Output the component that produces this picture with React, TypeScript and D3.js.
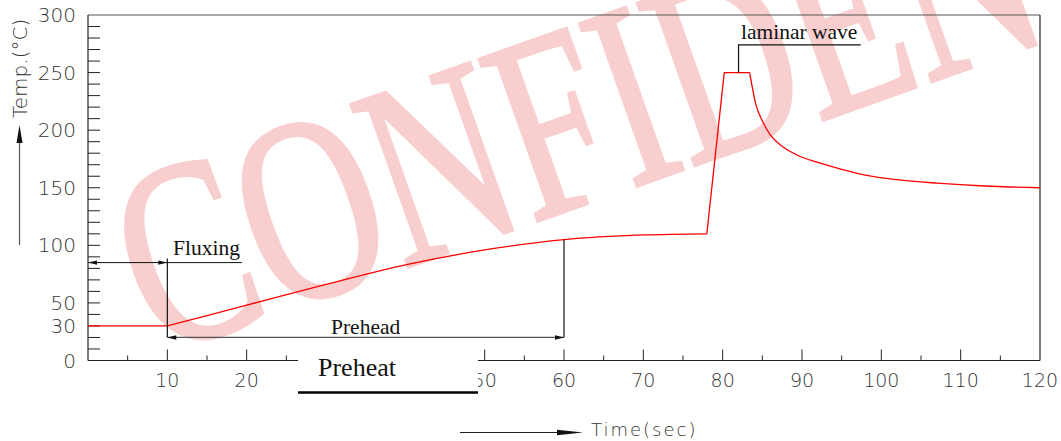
import { useRef, useEffect } from "react";
import * as d3 from "d3";

// profile segments (time sec, temp °C)
const fluxSeg: [number, number][] = [[0, 30], [10, 30]];
const preheatSeg: [number, number][] = [[10, 30], [20, 48], [30, 66], [40, 83], [50, 96], [60, 105], [70, 109], [78, 110]];
const waveSeg: [number, number][] = [[78, 110], [80.2, 250], [83.4, 250]];
const coolSeg: [number, number][] = [[83.4, 250], [84.2, 222], [85, 208], [86, 196], [87.5, 186], [89.5, 178], [92, 172], [95, 166], [98, 161], [102, 157], [107, 154], [113, 151.5], [120, 150]];

const yTickLabels = [0, 30, 50, 100, 150, 200, 250, 300];
const xTickLabels = [10, 20, 30, 40, 50, 60, 70, 80, 90, 100, 110, 120];

const W = 1061;
const H = 441;
const sans = "'DejaVu Sans', sans-serif";
const serif = "'Liberation Serif', 'Times New Roman', serif";

function arrowHead(g: any, x: number, y: number, dir: string, len: number, hw: number, color: string) {
    let pts: number[][] = [];
    if (dir === "left") pts = [[x, y], [x + len, y - hw], [x + len, y + hw]];
    if (dir === "right") pts = [[x, y], [x - len, y - hw], [x - len, y + hw]];
    if (dir === "up") pts = [[x, y], [x - hw, y + len], [x + hw, y + len]];
    g.append("path")
        .attr("d", "M" + pts.map(p => p.join(",")).join("L") + "Z")
        .attr("fill", color);
}

export default function App() {
    const svgRef = useRef<SVGSVGElement | null>(null);

    useEffect(() => {
        if (!svgRef.current) return;
        const svg = d3.select(svgRef.current);
        svg.selectAll("*").remove();

        const x = d3.scaleLinear().domain([0, 120]).range([88, 1040]);
        const y = d3.scaleLinear().domain([0, 300]).range([360.5, 15]);

        // watermark
        svg.append("text")
            .attr("transform", "translate(156,356) rotate(-19.5) scale(0.72,1)")
            .attr("font-family", serif)
            .attr("font-size", 262)
            .attr("fill", "#f8cece")
            .attr("stroke", "#f8cece")
            .attr("stroke-width", 4)
            .text("CONFIDENTIAL");

        const axisColor = "#222";
        const g = svg.append("g");

        // frame
        g.append("line").attr("x1", x(0)).attr("x2", x(120)).attr("y1", y(300)).attr("y2", y(300))
            .attr("stroke", "#555").attr("stroke-width", 1.2);
        g.append("line").attr("x1", x(120)).attr("x2", x(120)).attr("y1", y(300)).attr("y2", y(0))
            .attr("stroke", axisColor).attr("stroke-width", 1.2);
        g.append("line").attr("x1", x(0)).attr("x2", x(0)).attr("y1", y(300)).attr("y2", y(0))
            .attr("stroke", axisColor).attr("stroke-width", 1.2);
        g.append("line").attr("x1", x(0)).attr("x2", x(120)).attr("y1", y(0)).attr("y2", y(0))
            .attr("stroke", axisColor).attr("stroke-width", 1.2);

        // y ticks every 10
        g.selectAll(".ytick").data(d3.range(10, 300, 10)).join("line")
            .attr("x1", x(0)).attr("x2", x(0) + 12)
            .attr("y1", d => y(d)).attr("y2", d => y(d))
            .attr("stroke", axisColor).attr("stroke-width", 1);

        // x ticks: major 10, minor 5
        g.selectAll(".xtick").data(d3.range(5, 120, 5)).join("line")
            .attr("x1", d => x(d)).attr("x2", d => x(d))
            .attr("y1", y(0)).attr("y2", d => y(0) - (d % 10 === 0 ? 11 : 5))
            .attr("stroke", axisColor).attr("stroke-width", 1);

        g.selectAll(".ylab").data(yTickLabels).join("text")
            .attr("x", 76).attr("y", d => y(d) + 7)
            .attr("text-anchor", "end")
            .attr("font-family", sans).attr("font-weight", 200).attr("font-size", 20)
            .attr("fill", "#333")
            .text(d => d);

        g.selectAll(".xlab").data(xTickLabels).join("text")
            .attr("x", d => x(d)).attr("y", 386.5)
            .attr("text-anchor", "middle")
            .attr("font-family", sans).attr("font-weight", 200).attr("font-size", 19)
            .attr("fill", "#333")
            .text(d => d);

        // axis titles
        g.append("text")
            .attr("transform", "translate(26.5,118) rotate(-90)")
            .attr("font-family", sans).attr("font-weight", 200).attr("font-size", 20)
            .attr("fill", "#333")
            .text("Temp.(°C)");
        g.append("line").attr("x1", 19.5).attr("x2", 19.5).attr("y1", 245).attr("y2", 140)
            .attr("stroke", "#555").attr("stroke-width", 1.2);
        arrowHead(g, 19.5, 125, "up", 18, 3, "#111");

        g.append("line").attr("x1", 460).attr("x2", 560).attr("y1", 432.5).attr("y2", 432.5)
            .attr("stroke", "#222").attr("stroke-width", 1.2);
        arrowHead(g, 583, 432.5, "right", 26, 2.8, "#111");
        g.append("text")
            .attr("x", 591).attr("y", 436)
            .attr("font-family", sans).attr("font-weight", 200).attr("font-size", 18)
            .attr("letter-spacing", 2)
            .attr("fill", "#333")
            .text("Time(sec)");

        // profile curve
        const straight = d3.line<[number, number]>().x(d => x(d[0])).y(d => y(d[1]));
        const smooth = d3.line<[number, number]>().x(d => x(d[0])).y(d => y(d[1])).curve(d3.curveMonotoneX);
        [[fluxSeg, straight], [preheatSeg, smooth], [waveSeg, straight], [coolSeg, smooth]].forEach(([seg, gen]: any) => {
            g.append("path").attr("d", gen(seg))
                .attr("fill", "none").attr("stroke", "#ff0000").attr("stroke-width", 1.3)
                .attr("stroke-linejoin", "miter");
        });

        // Fluxing annotation
        const fluxY = y(85);
        g.append("line").attr("x1", x(0)).attr("x2", x(19.4)).attr("y1", fluxY).attr("y2", fluxY)
            .attr("stroke", "#111").attr("stroke-width", 1);
        arrowHead(g, x(0), fluxY, "left", 9, 2.2, "#111");
        arrowHead(g, x(10), fluxY, "right", 9, 2.2, "#111");
        g.append("line").attr("x1", x(10)).attr("x2", x(10)).attr("y1", fluxY - 4).attr("y2", y(20))
            .attr("stroke", "#111").attr("stroke-width", 1.2);
        g.append("text").attr("x", 173).attr("y", 255)
            .attr("font-family", serif).attr("font-size", 21.5).attr("fill", "#111")
            .text("Fluxing");

        // Prehead annotation
        const preY = y(20);
        g.append("line").attr("x1", x(10)).attr("x2", x(60)).attr("y1", preY).attr("y2", preY)
            .attr("stroke", "#555").attr("stroke-width", 1.2);
        arrowHead(g, x(10), preY, "left", 9, 2.2, "#111");
        arrowHead(g, x(60), preY, "right", 9, 2.2, "#111");
        g.append("line").attr("x1", x(60)).attr("x2", x(60)).attr("y1", y(105)).attr("y2", preY)
            .attr("stroke", "#111").attr("stroke-width", 1.2);
        g.append("text").attr("x", 331).attr("y", 334)
            .attr("font-family", serif).attr("font-size", 21.5).attr("fill", "#111")
            .text("Prehead");

        // laminar wave annotation
        g.append("path")
            .attr("d", `M${x(82)},${y(250)}V${y(274)}H${x(97.4)}`)
            .attr("fill", "none").attr("stroke", "#111").attr("stroke-width", 1.2);
        g.append("text").attr("x", 741).attr("y", 39)
            .attr("font-family", serif).attr("font-size", 21.5).attr("fill", "#111")
            .text("laminar wave");

        // Preheat box over the axis
        g.append("rect").attr("x", 298).attr("y", 345).attr("width", 180).attr("height", 46)
            .attr("fill", "#fff");
        g.append("text").attr("x", 318).attr("y", 376)
            .attr("font-family", serif).attr("font-size", 26).attr("fill", "#111")
            .text("Preheat");
        g.append("line").attr("x1", 298).attr("x2", 478).attr("y1", 392.5).attr("y2", 392.5)
            .attr("stroke", "#000").attr("stroke-width", 2.5);
    }, []);

    return (
        <svg ref={svgRef} width={W} height={H}
            style={{ position: "absolute", left: 0, top: 0, background: "#fff" }} />
    );
}
